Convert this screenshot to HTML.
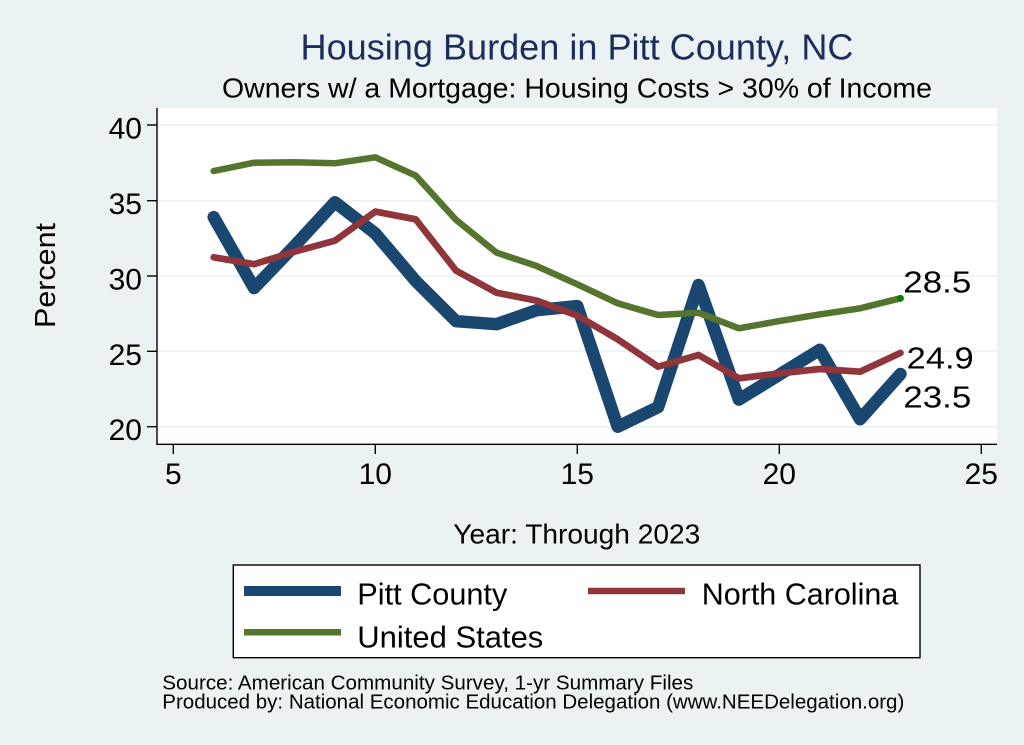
<!DOCTYPE html>
<html>
<head>
<meta charset="utf-8">
<style>
html,body{margin:0;padding:0;background:#eaf2f3;}
svg{display:block;}
text{font-family:"Liberation Sans",Arial,sans-serif;}
</style>
</head>
<body>
<svg width="1024" height="745" viewBox="0 0 1024 745" xmlns="http://www.w3.org/2000/svg">
  <rect x="0" y="0" width="1024" height="745" fill="#eaf2f3"/>
  <!-- plot region -->
  <rect x="157" y="108" width="840" height="336" fill="#ffffff"/>
  <!-- gridlines -->
  <g stroke="#eaf2f3" stroke-width="1.6">
    <line x1="157" y1="125" x2="997" y2="125"/>
    <line x1="157" y1="200.7" x2="997" y2="200.7"/>
    <line x1="157" y1="276" x2="997" y2="276"/>
    <line x1="157" y1="351.3" x2="997" y2="351.3"/>
    <line x1="157" y1="426.7" x2="997" y2="426.7"/>
  </g>
  <!-- axes -->
  <g stroke="#000" stroke-width="1.4" fill="none">
    <line x1="157" y1="108" x2="157" y2="444.5"/>
    <line x1="156.3" y1="444.3" x2="997" y2="444.3"/>
    <line x1="147" y1="125" x2="157" y2="125"/>
    <line x1="147" y1="200.7" x2="157" y2="200.7"/>
    <line x1="147" y1="276" x2="157" y2="276"/>
    <line x1="147" y1="351.3" x2="157" y2="351.3"/>
    <line x1="147" y1="426.7" x2="157" y2="426.7"/>
    <line x1="173.3" y1="444.3" x2="173.3" y2="454"/>
    <line x1="375.3" y1="444.3" x2="375.3" y2="454"/>
    <line x1="577.3" y1="444.3" x2="577.3" y2="454"/>
    <line x1="779.3" y1="444.3" x2="779.3" y2="454"/>
    <line x1="981.3" y1="444.3" x2="981.3" y2="454"/>
  </g>
  <!-- y tick labels -->
  <g font-size="30" fill="#000" text-anchor="end">
    <text x="142" y="138.5">40</text>
    <text x="142" y="214.2">35</text>
    <text x="142" y="289.5">30</text>
    <text x="142" y="364.8">25</text>
    <text x="142" y="440.2">20</text>
  </g>
  <!-- x tick labels -->
  <g font-size="30" fill="#000" text-anchor="middle">
    <text x="173.3" y="484">5</text>
    <text x="375.3" y="484">10</text>
    <text x="577.3" y="484">15</text>
    <text x="779.3" y="484">20</text>
    <text x="981.3" y="484">25</text>
  </g>
  <!-- axis titles -->
  <text x="453.3" y="543.5" font-size="28" fill="#000" textLength="247" lengthAdjust="spacingAndGlyphs">Year: Through 2023</text>
  <text transform="translate(55,275.5) rotate(-90)" font-size="29" fill="#000" text-anchor="middle" textLength="105" lengthAdjust="spacingAndGlyphs">Percent</text>
  <!-- titles -->
  <text x="577" y="59.5" font-size="36" fill="#1c2d5a" text-anchor="middle" textLength="553" lengthAdjust="spacingAndGlyphs">Housing Burden in Pitt County, NC</text>
  <text x="577" y="97.5" font-size="28" fill="#000" text-anchor="middle" textLength="710" lengthAdjust="spacingAndGlyphs">Owners w/ a Mortgage: Housing Costs &gt; 30% of Income</text>
  <!-- series -->
  <g fill="none" stroke-linejoin="round" stroke-linecap="round">
    <polyline stroke="#1a476f" stroke-width="12.5" points="213.7,217.2 254.1,288.1 294.5,245.9 334.9,202.2 375.3,233.4 415.7,281.0 456.1,321.2 496.5,324.2 536.9,310.1 577.3,306.1 617.7,426.7 658.1,407.1 698.5,285.0 738.9,399.6 779.3,374.7 819.7,349.8 860.1,419.2 900.5,374.0"/>
    <polyline stroke="#90353b" stroke-width="6.7" points="213.7,257.3 254.1,264.2 294.5,251.7 334.9,240.7 375.3,211.6 415.7,219.3 456.1,270.7 496.5,292.7 536.9,300.7 577.3,315.6 617.7,339.3 658.1,366.7 698.5,355.0 738.9,378.3 779.3,373.4 819.7,369.0 860.1,371.7 900.5,352.9"/>
    <polyline stroke="#55752f" stroke-width="6.5" points="213.7,171.0 254.1,162.7 294.5,162.2 334.9,163.3 375.3,157.3 415.7,175.6 456.1,219.9 496.5,252.6 536.9,266.1 577.3,284.3 617.7,303.3 658.1,315.0 698.5,312.8 738.9,328.3 779.3,321.1 819.7,314.4 860.1,308.3 900.5,298.3"/>
  </g>
  <circle cx="900.5" cy="298.3" r="3.4" fill="#008000"/>
  <!-- value labels -->
  <g font-size="31" fill="#000">
    <text x="903.3" y="292.7" textLength="68" lengthAdjust="spacingAndGlyphs">28.5</text>
    <text x="906.7" y="368.3" textLength="67" lengthAdjust="spacingAndGlyphs">24.9</text>
    <text x="903.3" y="407.3" textLength="68" lengthAdjust="spacingAndGlyphs">23.5</text>
  </g>
  <!-- legend -->
  <rect x="233.3" y="565" width="686.7" height="92.7" fill="#ffffff" stroke="#000" stroke-width="1.4"/>
  <line x1="244" y1="591" x2="341" y2="591" stroke="#1a476f" stroke-width="10"/>
  <line x1="588" y1="591" x2="685" y2="591" stroke="#90353b" stroke-width="6.5"/>
  <line x1="244" y1="632.3" x2="341" y2="632.3" stroke="#55752f" stroke-width="6.5"/>
  <g font-size="30.5" fill="#000">
    <text x="357.3" y="604.3" textLength="150" lengthAdjust="spacingAndGlyphs">Pitt County</text>
    <text x="701.7" y="604.3" textLength="196.6" lengthAdjust="spacingAndGlyphs">North Carolina</text>
    <text x="357.3" y="647.3" textLength="186" lengthAdjust="spacingAndGlyphs">United States</text>
  </g>
  <!-- notes -->
  <g font-size="20" fill="#000">
    <text x="162.3" y="689.3" textLength="531" lengthAdjust="spacingAndGlyphs">Source: American Community Survey, 1-yr Summary Files</text>
    <text x="162.3" y="708.3" textLength="742" lengthAdjust="spacingAndGlyphs">Produced by: National Economic Education Delegation (www.NEEDelegation.org)</text>
  </g>
</svg>
</body>
</html>
